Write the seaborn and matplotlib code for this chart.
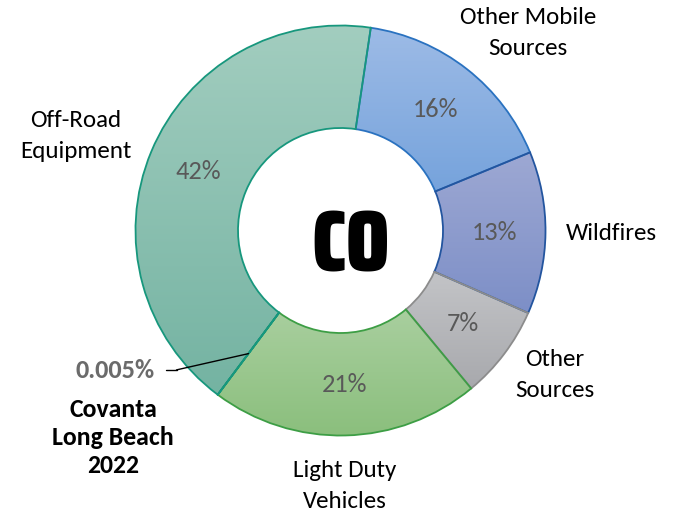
import numpy as np
import seaborn as sns
import matplotlib.pyplot as plt
from matplotlib import font_manager as fm
from matplotlib.colors import LinearSegmentedColormap

# CO emission shares, clockwise from the top
categories = ['Other Mobile\nSources', 'Wildfires', 'Other\nSources', 'Light Duty\nVehicles',
              'Covanta\nLong Beach\n2022', 'Off-Road\nEquipment']
shares = [16.4, 12.8, 7.4, 21.2, 0.005, 42.1]
pct_labels = ['16%', '13%', '7%', '21%', '0.005%', '42%']

fill_top = ['#9dbbe6', '#9da8d3', '#c3c4c7', '#a9cf9f', '#7ab6a6', '#a2cdbf']
fill_bottom = ['#76a3dc', '#7d8fc7', '#a8a9ad', '#8bbf7d', '#7ab6a6', '#74b3a2']
edge_colors = ['#2a72c0', '#23559f', '#8c8c8c', '#3d9e45', '#17977d', '#17977d']

# label layout (distance in radii, clockwise shift in degrees)
label_dist = [1.33, 1.32, 1.26, 1.245, None, 1.37]
label_shift = [5.5, 0, -3, 0.4, None, -3]


def heavy_condensed():
    # static (non-variable) bold file of a condensed family, if one is installed
    for name in ['Big Shoulders Display', 'Saira Extra Condensed', 'Saira Condensed',
                 'Barlow Condensed', 'Teko', 'Oswald']:
        for f in fm.fontManager.ttflist:
            if f.name == name and '[' not in f.fname and int(f.weight) >= 700:
                return fm.FontProperties(fname=f.fname)
    for name in ['Anton', 'Bebas Neue', 'Liberation Sans Narrow']:
        for f in fm.fontManager.ttflist:
            if f.name == name and '[' not in f.fname:
                return fm.FontProperties(fname=f.fname)
    return fm.FontProperties(family='DejaVu Sans', weight='bold')


sns.set_style('white')
plt.rcParams['font.family'] = ['Carlito', 'Lato', 'DejaVu Sans']

fig = plt.figure(figsize=(6.73, 5.12), dpi=100)
ax = fig.add_axes([0, 0, 1, 1])

wedges, _ = ax.pie(shares, startangle=81.5, counterclock=False, radius=1,
                   wedgeprops=dict(width=0.5, linewidth=1.3))

grad = np.linspace(0, 1, 200).reshape(-1, 1)
for w, top, bot, ec in zip(wedges, fill_top, fill_bottom, edge_colors):
    w.set_facecolor('none')
    w.set_edgecolor(ec)
    w.set_zorder(3)
    ext = w.get_path().get_extents()
    cmap = LinearSegmentedColormap.from_list('g', [bot, top])
    im = ax.imshow(grad, extent=(ext.x0, ext.x1, ext.y0, ext.y1), origin='lower',
                   cmap=cmap, aspect='auto', zorder=1)
    im.set_clip_path(w)

for i, w in enumerate(wedges):
    mid = np.deg2rad((w.theta1 + w.theta2) / 2)
    if categories[i].startswith('Covanta'):
        ax.annotate('', xy=(0.75 * np.cos(mid), 0.75 * np.sin(mid)), xytext=(-0.80, -0.68),
                    arrowprops=dict(arrowstyle='-', color='black', lw=1, shrinkA=0, shrinkB=0),
                    zorder=5)
        ax.plot([-0.85, -0.80], [-0.68, -0.68], color='black', lw=1, zorder=5)
        ax.text(-1.10, -0.685, pct_labels[i], ha='center', va='center', fontsize=19,
                fontweight='bold', color='#6b6b6b')
        ax.text(-1.11, -1.01, categories[i], ha='center', va='center', fontsize=18.5,
                fontweight='bold', color='black', linespacing=1.25)
        continue
    ax.text(0.75 * np.cos(mid), 0.75 * np.sin(mid), pct_labels[i], ha='center', va='center',
            fontsize=19, color='#595959', zorder=6)
    a = mid - np.deg2rad(label_shift[i])
    ax.text(label_dist[i] * np.cos(a), label_dist[i] * np.sin(a), categories[i],
            ha='center', va='center', fontsize=18, color='black', linespacing=1.6)

ax.text(0.05, -0.2, 'CO', ha='center', va='baseline', fontsize=62,
        fontproperties=heavy_condensed(), color='black')

ax.set_xlim(-340.5 / 205, (673 - 340.5) / 205)
ax.set_ylim(-281.5 / 205, 230.5 / 205)
ax.set_aspect('auto')
ax.axis('off')

fig.savefig('out.png', dpi=100)
